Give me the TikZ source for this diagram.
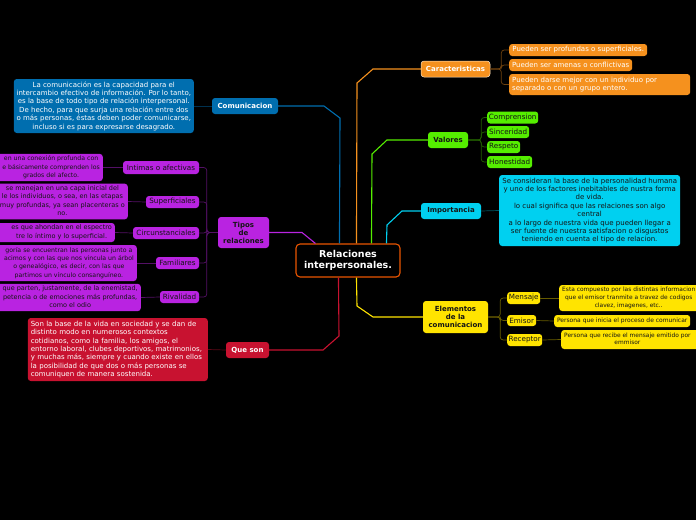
\documentclass[tikz,border=0pt]{standalone}
\usepackage{fontspec}
\setmainfont{DejaVu Sans}
\usetikzlibrary{positioning, calc}
\definecolor{rootor}{RGB}{235,85,0}
\definecolor{combl}{RGB}{0,110,175}
\definecolor{tippu}{RGB}{185,35,225}
\definecolor{quere}{RGB}{200,18,48}
\definecolor{caror}{RGB}{245,145,30}
\definecolor{valgr}{RGB}{85,238,0}
\definecolor{impcy}{RGB}{0,208,240}
\definecolor{eleye}{RGB}{255,228,0}
\definecolor{inkdark}{RGB}{20,20,20}
% notes that run off the page edge
\newcommand\notecutl[1]{\hspace*{60pt}\begin{tabular}{@{}c@{}}#1\end{tabular}}
\newcommand\notecutr[1]{\begin{tabular}{@{}c@{}}#1\end{tabular}\hspace*{20pt}}

\begin{document}
\begin{tikzpicture}[x=1pt, y=-1pt,
  box/.style={rounded corners=3pt, inner sep=1pt, align=center, font=\fontsize{7}{8.4}\selectfont},
  head/.style={box, font=\fontsize{7}{8}\selectfont\bfseries},
  item/.style={box, font=\fontsize{7.2}{8}\selectfont, minimum height=12pt},
  cutnote/.style={box, font=\fontsize{6.5}{8.4}\selectfont, inner xsep=3pt},
  rootbox/.style={draw=rootor, line width=1.1pt, fill=black, text=white, rounded corners=4pt,
    align=center, font=\fontsize{9.5}{11}\selectfont\bfseries, minimum width=104pt, minimum height=33pt},
  blbox/.style={fill=combl, text=white},
  pubox/.style={fill=tippu, text=inkdark},
  rebox/.style={fill=quere, text=white},
  orbox/.style={fill=caror, text=white},
  grbox/.style={fill=valgr, text=inkdark},
  cybox/.style={fill=impcy, text=inkdark},
  yebox/.style={fill=eleye, text=inkdark},
  link/.style={line width=1.1pt},
  twig/.style={line width=0.7pt, rounded corners=3pt},
]
\useasboundingbox (0,0) rectangle (696,520);
\fill[black] (0,0) rectangle (696,520);
\clip (0,0) rectangle (696,520);

% Root
\node[rootbox] (root) at (348,260.5) {Relaciones\\interpersonales.};

% Left branches
\node[head, blbox, minimum width=66pt, minimum height=16pt] (com) at (245,106) {Comunicacion};
\node[box, blbox, minimum width=180pt, minimum height=54pt, anchor=east] (comdesc) at (194,106)
  {La comunicación es la capacidad para el\\intercambio efectivo de información. Por lo tanto,\\es la base de todo tipo de relación interpersonal.\\De hecho, para que surja una relación entre dos\\o más personas, éstas deben poder comunicarse,\\incluso si es para expresarse desagrado.};

\node[head, pubox, minimum width=51pt, minimum height=31pt] (tipos) at (243.5,232.5) {Tipos\\de\\relaciones};
\node[item, pubox, minimum width=76pt, minimum height=13pt] (int) at (161,167.5) {Intimas o afectivas};
\node[item, pubox, minimum width=53pt] (sup) at (172.5,202) {Superficiales};
\node[item, pubox, minimum width=66pt] (cir) at (166,233) {Circunstanciales};
\node[item, pubox, minimum width=43pt] (fam) at (177.5,263) {Familiares};
\node[item, pubox, minimum width=39pt] (riv) at (179.5,297) {Rivalidad};

\node[cutnote, pubox, font=\fontsize{6.2}{8.4}\selectfont, minimum height=27pt, anchor=east] (intdesc) at (103,167.5)
  {\notecutl{en una conexión profunda con\\e básicamente comprenden los\\grados del afecto.}};
\node[cutnote, pubox, minimum height=35pt, anchor=east] (supdesc) at (128,201.5)
  {\notecutl{se manejan en una capa inicial del\\le los individuos, o sea, en las etapas\\muy profundas, ya sean placenteras o\\no.}};
\node[cutnote, pubox, minimum height=19pt, anchor=east] (cirdesc) at (115,232.5)
  {\notecutl{es que ahondan en el espectro\\tre lo íntimo y lo superficial.}};
\node[cutnote, pubox, font=\fontsize{6.2}{8.4}\selectfont, minimum height=36pt, anchor=east] (famdesc) at (137,263)
  {\notecutl{goría se encuentran las personas junto a\\acimos y con las que nos vincula un árbol\\o genealógico, es decir, con las que\\partimos un vínculo consanguíneo.}};
\node[cutnote, pubox, minimum height=27pt, anchor=east] (rivdesc) at (141,297.5)
  {\notecutl{que parten, justamente, de la enemistad,\\petencia o de emociones más profundas,\\como el odio}};

\node[head, rebox, minimum width=43pt, minimum height=16pt] (que) at (247.5,350) {Que son};
\node[box, rebox, align=left, inner xsep=3pt, text width=174pt, minimum height=63pt, anchor=east] (quedesc) at (208,349.5)
  {Son la base de la vida en sociedad y se dan de\\distinto modo en numerosos contextos\\cotidianos, como la familia, los amigos, el\\entorno laboral, clubes deportivos, matrimonios,\\y muchas más, siempre y cuando existe en ellos\\la posibilidad de que dos o más personas se\\comuniquen de manera sostenida.};

% Right branches
\node[head, orbox, draw=white!75!caror, line width=0.5pt, minimum width=69pt, minimum height=16pt] (car) at (455.5,69) {Caracteristicas};
\node[box, orbox, minimum width=138pt, minimum height=12pt, anchor=west] (ca1) at (509,50) {Pueden ser profundas o superficiales.};
\node[box, orbox, minimum width=123pt, minimum height=12pt, anchor=west] (ca2) at (509,65) {Pueden ser amenas o conflictivas};
\node[box, orbox, align=left, inner xsep=3pt, text width=175pt, minimum height=21pt, anchor=west] (ca3) at (509,84.5)
  {Pueden darse mejor con un individuo por\\separado o con un grupo entero.};

\node[head, grbox, minimum width=40pt, minimum height=16pt] (val) at (448,140) {Valores};
\node[item, grbox, minimum width=51pt, anchor=west] (v1) at (487,117.5) {Comprension};
\node[item, grbox, minimum width=42pt, anchor=west] (v2) at (487,132) {Sinceridad};
\node[item, grbox, minimum width=33pt, anchor=west] (v3) at (487,147) {Respeto};
\node[item, grbox, minimum width=45pt, anchor=west] (v4) at (487,162) {Honestidad};

\node[head, cybox, minimum width=60pt, minimum height=16pt] (imp) at (451,211) {Importancia};
\node[box, cybox, minimum width=181pt, minimum height=71pt, anchor=west] (impdesc) at (499,210.5)
  {Se consideran la base de la personalidad humana\\y uno de los factores inebitables de nustra forma\\de vida.\\lo cual significa que las relaciones son algo\\central\\a lo largo de nuestra vida que pueden llegar a\\ser fuente de nuestra satisfacion o disgustos\\teniendo en cuenta el tipo de relacion.};

\node[head, yebox, minimum width=65pt, minimum height=32pt] (ele) at (455.5,317) {Elementos\\de la\\comunicacion};
\node[item, yebox, minimum width=33pt, anchor=west] (men) at (507,298) {Mensaje};
\node[item, yebox, minimum width=29pt, minimum height=11pt, anchor=west] (emi) at (507,320.5) {Emisor};
\node[item, yebox, minimum width=35pt, anchor=west] (rec) at (507,340) {Receptor};
\node[cutnote, yebox, font=\fontsize{5.9}{7.6}\selectfont, minimum height=26pt, anchor=west] (mendesc) at (559,298)
  {\notecutr{Esta compuesto por las distintas informacion\\que el emisor tranmite a travez de codigos\\clavez, imagenes, etc..}};
\node[box, yebox, font=\fontsize{6}{7}\selectfont, minimum width=136pt, minimum height=12pt, anchor=west] (emidesc) at (554,321) {Persona que inicia el proceso de comunicar};
\node[cutnote, yebox, font=\fontsize{5.9}{7.6}\selectfont, minimum height=19pt, anchor=west] (recdesc) at (561,339.5)
  {\notecutr{Persona que recibe el mensaje emitido por\\emmisor}};

% Edges root -> branches
\draw[link, combl] (com.east) -- (324,106) -- (340,118) -- ($(root.north west)+(44,0)$);
\draw[link, tippu] (tipos.east) -- (302,232.5) -- ($(root.north west)+(20,0)$);
\draw[link, quere] (que.east) -- (323,350) -- (339,336) -- ($(root.south west)+(43,0)$);
\draw[link, caror] (car.west) -- (373,69) -- (357,83) -- ($(root.north west)+(61,0)$);
\draw[link, valgr] (val.west) -- (387,140) -- (372,154) -- ($(root.north west)+(76,0)$);
\draw[link, impcy] (imp.west) -- (402,211) -- (387,225) -- ($(root.north west)+(91,0)$);
\draw[link, eleye] (ele.west) -- (373,317) -- (357,306) -- ($(root.south west)+(61,0)$);

% Edges branches -> items
\foreach \item in {int,sup,cir,fam,riv}
  \draw[twig, tippu!45!black] (tipos.west) -- ++(-11,0) |- (\item.east);
\foreach \item in {ca1,ca2,ca3}
  \draw[twig, caror!45!black] (car.east) -- ++(11,0) |- (\item.west);
\foreach \item in {v1,v2,v3,v4}
  \draw[twig, valgr!40!black] (val.east) -- ++(13,0) |- (\item.west);
\foreach \item in {men,emi,rec}
  \draw[twig, eleye!40!black] (ele.east) -- ++(12,0) |- (\item.west);

% Edges items -> notes
\foreach \note/\item in {intdesc/int,supdesc/sup,cirdesc/cir,famdesc/fam,rivdesc/riv}
  \draw[twig, tippu!45!black] (\note.east) -- (\item.west);
\foreach \note/\item in {mendesc/men,emidesc/emi,recdesc/rec}
  \draw[twig, eleye!40!black] (\item.east) -- (\note.west);
\draw[twig, combl!45!black] (comdesc.east) -- (com.west);
\draw[twig, quere!45!black] (quedesc.east) -- (que.west);
\draw[twig, impcy!40!black] (imp.east) -- (impdesc.west);
\end{tikzpicture}
\end{document}
